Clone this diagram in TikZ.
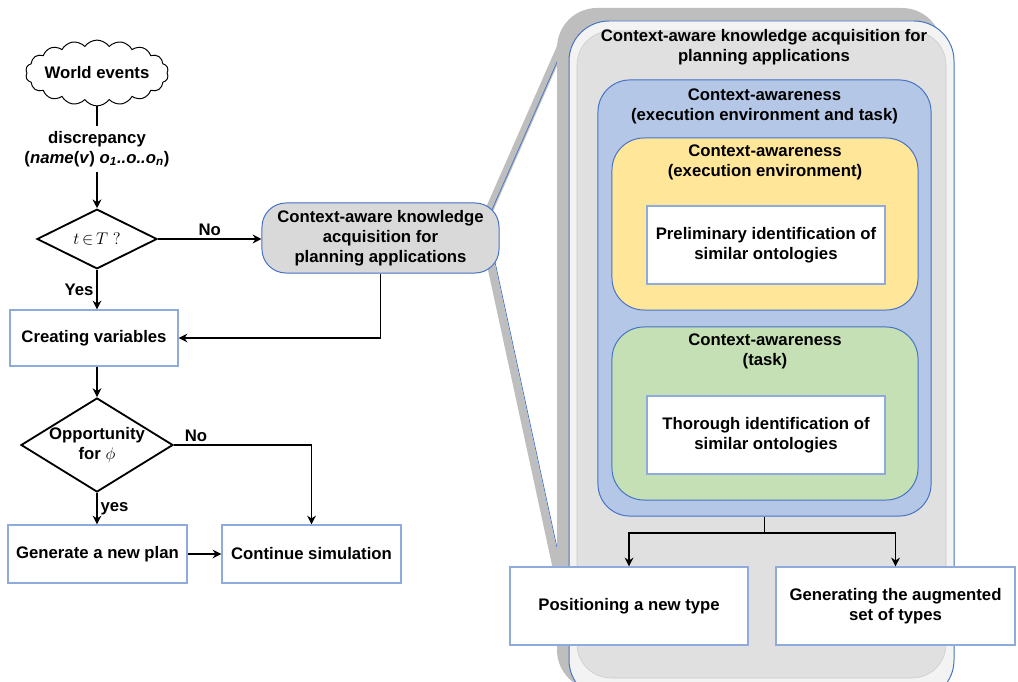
\documentclass[tikz,border=0pt]{standalone}
\usepackage{fontspec}
\setmainfont{Liberation Sans}
\usetikzlibrary{arrows.meta, positioning, shapes.geometric, shapes.symbols, calc}

\definecolor{boxline}{RGB}{143,170,220}
\definecolor{accent}{RGB}{68,114,196}
\definecolor{ctxblue}{RGB}{180,199,231}
\definecolor{ctxyellow}{RGB}{255,230,153}
\definecolor{ctxgreen}{RGB}{197,224,180}
\definecolor{acqgrey}{RGB}{217,217,217}
\definecolor{shadegrey}{RGB}{190,190,190}
\definecolor{panelgrey}{RGB}{224,224,224}

\begin{document}
\begin{tikzpicture}[
		x=0.025cm, y=-0.025cm,
		every node/.style={font=\fontsize{11.9}{14.3}\selectfont\bfseries, align=center},
		process/.style={rectangle, draw=boxline, line width=0.8pt, fill=white},
		decision/.style={diamond, draw, line width=1.3pt, fill=white, inner sep=0pt},
		layer/.style={rectangle, rounded corners=0.8cm, draw=accent, line width=0.7pt},
		band/.style={shadegrey, line width=0.2cm},
		flow/.style={-{Stealth[length=2.2mm,width=2.2mm]}, line width=1pt},
		tag/.style={inner sep=2pt}
		]
		\useasboundingbox (0,0) rectangle (1018,682);
		
		% zoom bands behind the panel
		\draw[band] (487,215) -- (564,40);
		\draw[accent, line width=0.5pt] (491,212) -- (568,37);
		\draw[band] (491,265) -- (565,606);
		\draw[accent, line width=0.5pt] (495,262) -- (569,603);
		
		% panel
		\fill[shadegrey, rounded corners=1cm] (557,8) rectangle (942,690);
		\draw[accent, fill=panelgrey!40!white, rounded corners=1cm, line width=0.7pt] (569,21) rectangle (954,700);
		\draw[shadegrey!80, fill=panelgrey, rounded corners=0.85cm] (577,31) rectangle (946,678);
		
		% left flow
		\node[cloud, cloud puffs=18, cloud puff arc=110, aspect=2.6, draw, line width=0.7pt, fill=white, inner sep=-2pt] (world) at (97,73) {World events};
		\node (discr) at (97,149) {discrepancy\\(\textit{name}(\textit{v}) \textit{o\textsubscript{1}..o..o\textsubscript{n}})};
		\node[decision, minimum width=3cm, minimum height=1.45cm] (intype) at (97,239) {$t\,{\in}\,T\;?$};
		\node[process, minimum width=4.2cm, minimum height=1.4cm] (vars) at (94,338) {Creating variables};
		\node[decision, minimum width=3.8cm, minimum height=2.35cm] (chance) at (97,445) {};
		\node (chancetext) at (chance.center) {Opportunity\\for $\phi$};
		\node[process, minimum width=4.475cm, minimum height=1.45cm] (newplan) at (97.5,554) {Generate a new plan};
		\node[process, minimum width=4.475cm, minimum height=1.45cm] (simulate) at (311.5,554) {Continue simulation};
		\node[rectangle, rounded corners=0.6cm, draw=accent, fill=acqgrey, line width=0.7pt, minimum width=5.925cm, minimum height=1.75cm, inner sep=2pt] (acquire) at (380.5,238) {Context-aware knowledge\\acquisition for\\planning applications};
		
		\draw[line width=1pt] (world) -- (discr);
		\draw[flow] (discr) -- (intype);
		\draw[flow] (intype.east) -- node[above, tag] {No} (intype.east -| acquire.west);
		\draw[flow] (intype.south) -- node[left, tag] {Yes} (intype.south |- vars.north);
		\draw[flow] (acquire.south) |- (vars.east);
		\draw[flow] (vars.south -| chance.north) -- (chance.north);
		\draw[flow] (chance.south) -- node[right, tag] {yes} (chance.south |- newplan.north);
		\draw[flow] (chance.east) -| node[pos=0.08, above, tag] {No} (simulate.north);
		\draw[flow] (newplan) -- (simulate);
		
		% panel content
		\node (paneltitle) at (764,47) {Context-aware knowledge acquisition for\\planning applications};
		\node[layer, fill=ctxblue, minimum width=8.325cm, minimum height=10.9cm] (ctxall) at (764.5,298) {};
		\node (ctxalltitle) at (764.5,106) {Context-awareness\\(execution environment and task)};
		\node[layer, fill=ctxyellow, minimum width=7.65cm, minimum height=4.3cm] (ctxenv) at (765,224) {};
		\node (ctxenvtitle) at (765,162) {Context-awareness\\(execution environment)};
		\node[process, minimum width=5.95cm, minimum height=1.95cm] (prelim) at (766,245) {Preliminary identification of\\similar ontologies};
		\node[layer, fill=ctxgreen, minimum width=7.65cm, minimum height=4.325cm] (ctxtask) at (765,413.5) {};
		\node (ctxtasktitle) at (765,351) {Context-awareness\\(task)};
		\node[process, minimum width=5.95cm, minimum height=1.95cm] (thorough) at (766,435) {Thorough identification of\\similar ontologies};
		\node[process, minimum width=5.95cm, minimum height=1.95cm] (position) at (629,606) {Positioning a new type};
		\node[process, minimum width=5.975cm, minimum height=1.95cm] (augment) at (895.5,606) {Generating the augmented\\set of types};
		
		\coordinate (split) at (764.5,533);
		\draw[line width=1pt] (ctxall.south) -- (split);
		\draw[flow] (split) -| (position.north);
		\draw[flow] (split) -| (augment.north);
		
	\end{tikzpicture}
\end{document}
